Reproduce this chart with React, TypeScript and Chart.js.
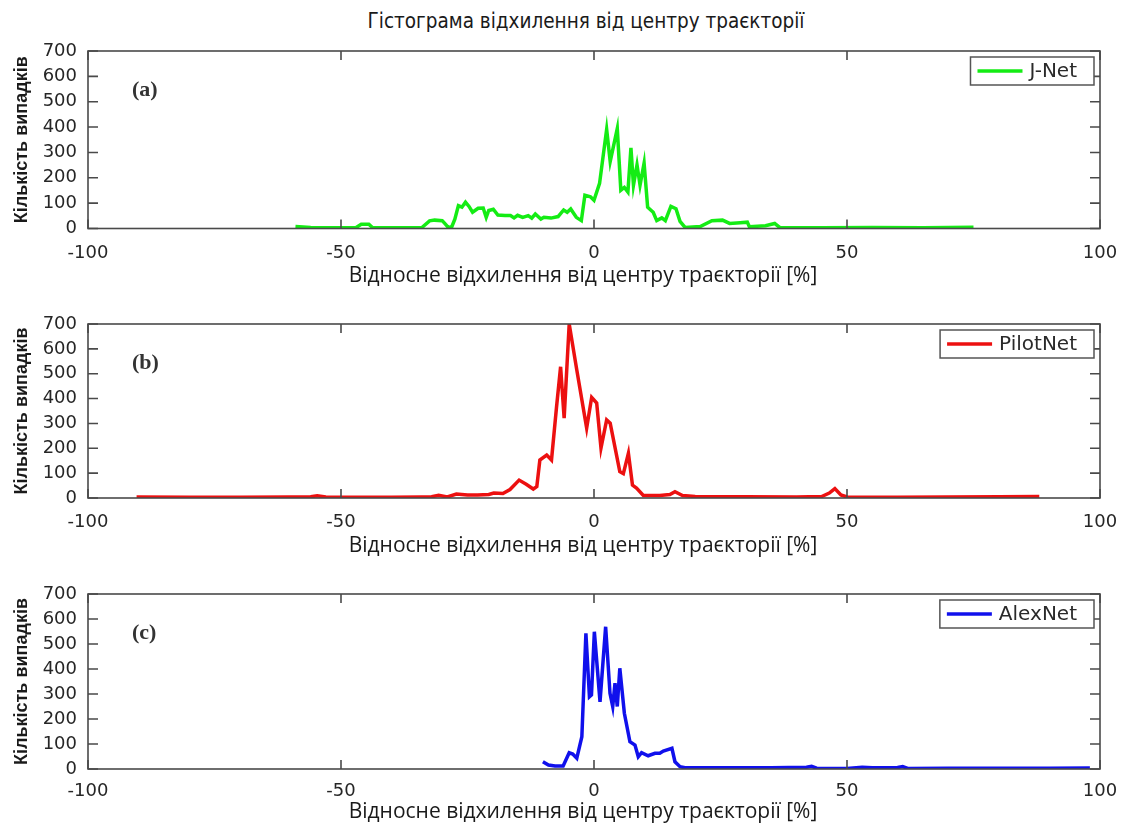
import React, { useEffect, useRef } from "react";
import { Chart, registerables } from "chart.js";

Chart.register(...registerables);

// ---------- text ----------
const MAIN_TITLE = "Гістограма відхилення від центру траєкторії";
const X_TITLE = "Відносне відхилення від центру траєкторії [%]";
const Y_TITLE = "Кількість випадків";
const X_TICKS = [-100, -50, 0, 50, 100];
const Y_TICKS = [0, 100, 200, 300, 400, 500, 600, 700];

// ---------- data: J-Net ----------
const jnetX = [
  -59, -56, -50, -47, -46, -44.5, -43.8, -40, -34, -32.5, -31.5, -30, -29.5, -28.8, -28.1, -27.5, -26.8, -26.1,
  -25.4, -24.7, -24, -22.9, -21.9, -21.3, -20.8, -19.9, -19, -17.6, -16.5, -15.8, -15.1, -14.1, -13, -12.3, -11.6,
  -10.5, -9.9, -8.5, -7.1, -6, -5.3, -4.6, -3.5, -2.5, -1.8, -0.7, 0, 1.1, 2.5, 3.2, 4.6, 5.3, 6.0, 6.7, 7.3, 7.8,
  8.5, 9.1, 9.9, 10.6, 11.7, 12.4, 13.4, 14.1, 15.2, 16.2, 17.0, 18.0, 21, 23.3, 25.4, 26.8, 28.9, 30.3, 30.7, 33.9,
  35.7, 36.7, 45, 55, 65, 75,
];
const jnetY = [
  8, 4, 3, 4, 17, 17, 4, 3, 4, 30, 33, 31, 20, 4, 7, 37, 90, 84,
  104, 87, 64, 80, 81, 44, 71, 76, 53, 51, 51, 42, 52, 44, 51, 41, 57,
  37, 44, 41, 47, 73, 64, 77, 44, 31, 131, 125, 111, 178, 391, 264, 394, 151, 162, 144, 318, 171,
  251, 171, 258, 84, 64, 31, 42, 31, 87, 78, 28, 4, 8, 31, 33, 20, 23, 25, 7, 11,
  20, 4, 3, 4, 3, 5,
];

// ---------- data: PilotNet ----------
const pilotX = [
  -90.4, -80, -70, -60, -56, -54.7, -53, -45, -40, -34, -32.1, -30.7, -29, -27.2, -25, -23, -20.8, -19.8, -18,
  -16.6, -14.8, -13.4, -12, -11.3, -10.7, -9.35, -8.4, -7.4, -6.6, -5.9, -4.9, -3.4, -1.45, -0.46, 0.53, 1.38,
  2.5, 3.2, 5.1, 5.8, 6.8, 7.6, 8.4, 9.75, 13, 15, 16, 17.5, 20, 30, 40, 45, 46.5, 47.6, 48.8, 50, 60, 70, 80, 88,
];
const pilotY = [
  4, 3, 3, 4, 5, 9, 4, 3, 3, 4, 5, 11, 4, 16, 12, 12, 14, 20, 18,
  34, 72, 55, 36, 46, 153, 173, 153, 367, 528, 321, 700, 515, 281, 405, 382, 201,
  314, 301, 106, 98, 180, 52, 40, 10, 10, 14, 25, 10, 6, 5, 4, 6, 20, 38, 12, 4, 3, 4, 5, 6,
];

// ---------- data: AlexNet ----------
const alexX = [
  -10.1, -9.0, -7.7, -6.1, -4.9, -4.2, -3.4, -2.4, -1.6, -0.9, -0.5, 0.07, 1.19, 2.3, 3.16, 3.7, 4.15, 4.6, 5.1,
  6.0, 7.1, 8.1, 8.75, 9.4, 10.7, 12.05, 13, 13.7, 15.4, 16.0, 17, 18, 25, 35, 42, 43, 44, 50, 53, 55, 60, 61, 62,
  70, 80, 90, 98,
];
const alexY = [
  29, 16, 12, 12, 65, 60, 43, 129, 543, 289, 296, 549, 269, 569, 303, 250, 343, 250, 403,
  223, 109, 96, 49, 65, 53, 63, 63, 72, 83, 29, 9, 5, 5, 5, 7, 11, 3, 2, 7, 5, 6, 10, 2,
  3, 3, 3, 4,
];

type Panel = {
  tag: string;
  name: string;
  color: string;
  xs: number[];
  ys: number[];
  canvasTop: number;
  canvasH: number;
  areaTop: number;
  areaBottom: number;
  xAxisH: number;
  xTickPad: number;
  xTitleY: number;
};

const PANELS: Panel[] = [
  { tag: "(a)", name: "J-Net", color: "#14ec14", xs: jnetX, ys: jnetY, canvasTop: 0, canvasH: 290, areaTop: 51, areaBottom: 228.5, xAxisH: 59.5, xTickPad: 13.7, xTitleY: 276 },
  { tag: "(b)", name: "PilotNet", color: "#ec1010", xs: pilotX, ys: pilotY, canvasTop: 290, canvasH: 270, areaTop: 324, areaBottom: 498, xAxisH: 60, xTickPad: 13.2, xTitleY: 546 },
  { tag: "(c)", name: "AlexNet", color: "#1010ec", xs: alexX, ys: alexY, canvasTop: 560, canvasH: 265, areaTop: 594, areaBottom: 769, xAxisH: 56, xTickPad: 11.2, xTitleY: 812 },
];

const W = 1132;
const AREA_LEFT = 88;
const AREA_RIGHT = 1100;

const framePlugin = {
  id: "frame",
  afterDatasetsDraw(chart: any, _args: any, opts: any) {
    const { ctx, chartArea: a } = chart;
    const x = chart.scales.x;
    const y = chart.scales.y;
    ctx.save();
    ctx.strokeStyle = "#4a4a4a";
    ctx.lineWidth = 1.6;
    ctx.strokeRect(a.left, a.top, a.right - a.left, a.bottom - a.top);
    ctx.beginPath();
    for (const t of X_TICKS) {
      const px = x.getPixelForValue(t);
      ctx.moveTo(px, a.bottom);
      ctx.lineTo(px, a.bottom - 9);
      ctx.moveTo(px, a.top);
      ctx.lineTo(px, a.top + 9);
    }
    for (const t of Y_TICKS) {
      const py = y.getPixelForValue(t);
      ctx.moveTo(a.left, py);
      ctx.lineTo(a.left + 10, py);
      ctx.moveTo(a.right, py);
      ctx.lineTo(a.right - 10, py);
    }
    ctx.stroke();

    // panel tag
    ctx.font = 'bold 22px "Liberation Serif", serif';
    ctx.fillStyle = "#333";
    ctx.textBaseline = "middle";
    ctx.textAlign = "left";
    ctx.fillText(opts.tag, a.left + 44, a.top + 39);

    // legend box
    ctx.font = '20px "DejaVu Sans", sans-serif';
    const tw = ctx.measureText(opts.name).width;
    const bw = 62 + tw + 14;
    const bh = 28;
    const bx = a.right - 6 - bw;
    const by = a.top + 6;
    ctx.fillStyle = "#fff";
    ctx.fillRect(bx, by, bw, bh);
    ctx.strokeStyle = "#555";
    ctx.lineWidth = 1.5;
    ctx.strokeRect(bx, by, bw, bh);
    ctx.strokeStyle = opts.color;
    ctx.lineWidth = 3.5;
    ctx.beginPath();
    ctx.moveTo(bx + 7, by + bh / 2);
    ctx.lineTo(bx + 52, by + bh / 2);
    ctx.stroke();
    ctx.fillStyle = "#2a2a2a";
    ctx.fillText(opts.name, bx + 59, by + bh / 2 + 1);

    // x-axis title
    ctx.font = '21px "Open Sans", sans-serif';
    ctx.fillStyle = "#1a1a1a";
    ctx.textAlign = "center";
    ctx.fillText(X_TITLE, (a.left + a.right) / 2 - 11, opts.titleY - chart.canvas.offsetTop);
    ctx.restore();
  },
};

function PanelChart({ p }: { p: Panel }) {
  const ref = useRef<HTMLCanvasElement | null>(null);
  useEffect(() => {
    if (!ref.current) return;
    const data = p.xs.map((v, i) => ({ x: v, y: p.ys[i] }));
    const chart = new Chart(ref.current, {
      type: "line",
      data: {
        datasets: [
          {
            label: p.name,
            data,
            borderColor: p.color,
            backgroundColor: p.color,
            borderWidth: 3.5,
            pointRadius: 0,
            tension: 0,
            fill: false,
          },
        ],
      },
      options: {
        responsive: false,
        animation: false,
        devicePixelRatio: 1,
        layout: {
          padding: {
            top: p.areaTop - p.canvasTop,
            bottom: p.canvasTop + p.canvasH - p.areaBottom - p.xAxisH,
            left: 0,
            right: W - AREA_RIGHT,
          },
        },
        plugins: {
          legend: { display: false },
          tooltip: { enabled: false },
          title: { display: false },
          frame: { tag: p.tag, name: p.name, color: p.color, titleY: p.xTitleY },
        } as any,
        scales: {
          x: {
            type: "linear",
            min: -100,
            max: 100,
            grid: { display: false, drawTicks: false },
            border: { display: false },
            afterBuildTicks: (s: any) => {
              s.ticks = X_TICKS.map((v) => ({ value: v }));
            },
            afterFit: (s: any) => {
              s.height = p.xAxisH;
            },
            ticks: {
              padding: p.xTickPad,
              maxRotation: 0,
              autoSkip: false,
              color: "#262626",
              font: { family: "DejaVu Sans", size: 18 },
            },
          },
          y: {
            type: "linear",
            min: 0,
            max: 700,
            grid: { display: false, drawTicks: false },
            border: { display: false },
            afterBuildTicks: (s: any) => {
              s.ticks = Y_TICKS.map((v) => ({ value: v }));
            },
            afterFit: (s: any) => {
              s.width = AREA_LEFT;
            },
            ticks: {
              padding: 11,
              color: "#262626",
              font: { family: "DejaVu Sans", size: 18 },
            },
            title: {
              display: true,
              text: Y_TITLE,
              color: "#1a1a1a",
              padding: { top: 11, bottom: 0 },
              font: { family: "Liberation Sans", size: 18, weight: "bold" },
            },
          },
        },
      },
      plugins: [framePlugin],
    });
    return () => chart.destroy();
  }, [p]);
  return (
    <canvas
      ref={ref}
      width={W}
      height={p.canvasH}
      style={{ position: "absolute", left: 0, top: p.canvasTop, width: W, height: p.canvasH, display: "block" }}
    />
  );
}

export default function App() {
  return (
    <div
      style={{
        position: "absolute",
        left: 0,
        top: 0,
        width: W,
        height: 825,
        overflow: "hidden",
        background: "#fff",
      }}
    >
      <div
        style={{
          position: "absolute",
          left: 286,
          width: 600,
          top: 8,
          lineHeight: "26px",
          fontSize: 20.5,
          textAlign: "center",
          color: "#1a1a1a",
          fontFamily: "'Liberation Sans Narrow', 'DejaVu Sans Condensed', 'Roboto Condensed', sans-serif",
        }}
      >
        {MAIN_TITLE}
      </div>
      {PANELS.map((p) => (
        <PanelChart key={p.tag} p={p} />
      ))}
    </div>
  );
}
